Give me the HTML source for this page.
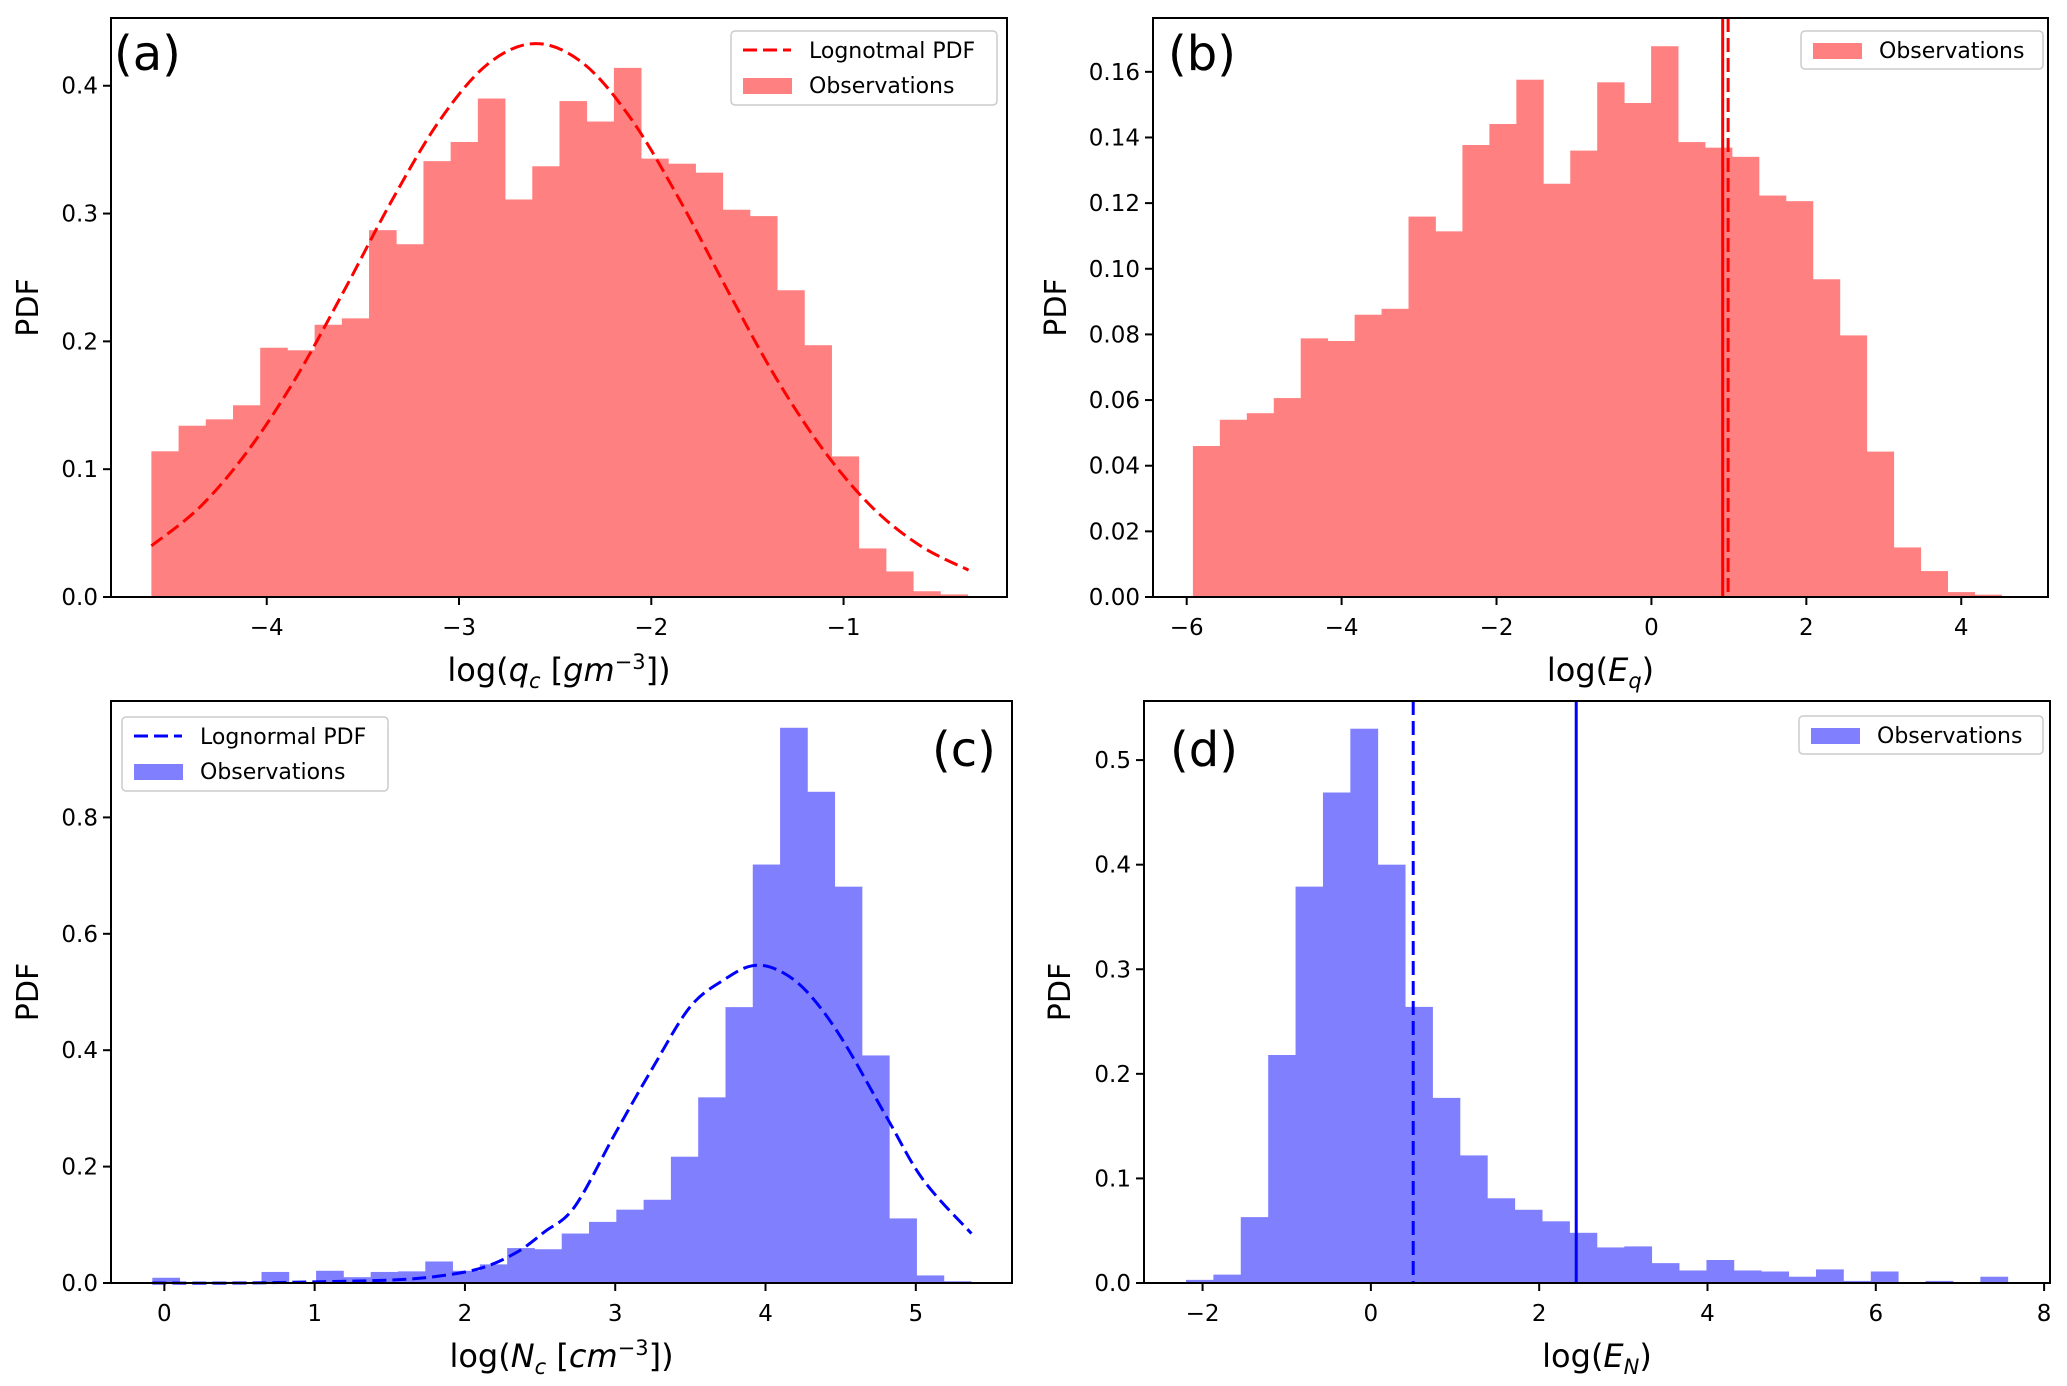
<!DOCTYPE html>
<html><head><meta charset="utf-8"><style>
html,body{margin:0;padding:0;background:#fff}
svg{display:block}
text{font-family:"DejaVu Sans","Liberation Sans",sans-serif;fill:#000}
</style></head><body>
<svg id="fig" width="2067" height="1386" viewBox="0 0 2067 1386" xmlns="http://www.w3.org/2000/svg"></svg>
<script>
// ---- data ----
const aBinStart = -4.6, aBinWidth = 0.1415;
const aHeights = [0.114,0.134,0.139,0.150,0.195,0.193,0.213,0.218,0.287,0.276,0.341,0.356,0.390,0.311,0.337,0.388,0.372,0.414,0.343,0.339,0.332,0.303,0.298,0.240,0.197,0.110,0.038,0.020,0.0045,0.002];
const aCurveX = [-4.6,-4.35,-4.1,-3.85,-3.6,-3.35,-3.1,-2.85,-2.6,-2.35,-2.1,-1.85,-1.6,-1.35,-1.1,-0.85,-0.6,-0.35];
const aCurveY = [0.040,0.070,0.114,0.171,0.239,0.310,0.373,0.417,0.433,0.417,0.373,0.310,0.239,0.171,0.114,0.070,0.040,0.021];
const aXTicks = [-4,-3,-2,-1];
const aYTicks = [0,0.1,0.2,0.3,0.4];
const aYLabels = ["0.0","0.1","0.2","0.3","0.4"];

const bBinStart = -5.92, bBinWidth = 0.348;
const bHeights = [0.046,0.054,0.056,0.0606,0.0788,0.078,0.086,0.0878,0.1159,0.1114,0.1377,0.1441,0.1576,0.1259,0.136,0.1568,0.1505,0.1678,0.1386,0.1369,0.1341,0.1223,0.1206,0.0968,0.0797,0.0443,0.0151,0.0079,0.0015,0.0007];
const bSolidLine = 0.92, bDashedLine = 0.99;
const bXTicks = [-6,-4,-2,0,2,4];
const bYTicks = [0,0.02,0.04,0.06,0.08,0.10,0.12,0.14,0.16];
const bYLabels = ["0.00","0.02","0.04","0.06","0.08","0.10","0.12","0.14","0.16"];

const cBinStart = -0.08, cBinWidth = 0.1816;
const cHeights = [0.009,0.001,0.002,0.001,0.019,0.001,0.021,0.010,0.019,0.020,0.037,0.021,0.032,0.060,0.058,0.085,0.105,0.126,0.143,0.217,0.319,0.474,0.719,0.954,0.844,0.681,0.391,0.111,0.013,0.003];
const cCurveX = [-0.08,0.5,1.0,1.5,1.8,2.1,2.34,2.53,2.73,3.0,3.25,3.5,3.73,3.91,4.08,4.27,4.5,4.81,5.05,5.37];
const cCurveY = [0.0,0.0,0.002,0.005,0.011,0.025,0.052,0.088,0.131,0.257,0.37,0.475,0.522,0.545,0.538,0.502,0.423,0.283,0.177,0.085];
const cXTicks = [0,1,2,3,4,5];
const cYTicks = [0,0.2,0.4,0.6,0.8];
const cYLabels = ["0.0","0.2","0.4","0.6","0.8"];

const dBinStart = -2.197, dBinWidth = 0.3255;
const dHeights = [0.003,0.008,0.063,0.218,0.379,0.469,0.530,0.400,0.264,0.177,0.122,0.081,0.070,0.059,0.048,0.034,0.035,0.019,0.012,0.022,0.012,0.011,0.006,0.013,0.002,0.011,0.0005,0.002,0.0005,0.006];
const dSolidLine = 2.44, dDashedLine = 0.503;
const dXTicks = [-2,0,2,4,6,8];
const dYTicks = [0,0.1,0.2,0.3,0.4,0.5];
const dYLabels = ["0.0","0.1","0.2","0.3","0.4","0.5"];

// ---- drawing ----
const NS = "http://www.w3.org/2000/svg";
const svg = document.getElementById('fig');
function el(tag, attrs, parent){
  const e = document.createElementNS(NS, tag);
  for (const k in attrs) e.setAttribute(k, attrs[k]);
  (parent||svg).appendChild(e);
  return e;
}
function fmt(v){ return (v<0?"\u2212":"")+Math.abs(v); }
function smoothPath(pts){
  let d = 'M' + pts[0][0] + ',' + pts[0][1];
  for (let i=0;i<pts.length-1;i++){
    const p0 = pts[Math.max(0,i-1)], p1 = pts[i], p2 = pts[i+1], p3 = pts[Math.min(pts.length-1,i+2)];
    const c1x = p1[0] + (p2[0]-p0[0])/6, c1y = p1[1] + (p2[1]-p0[1])/6;
    const c2x = p2[0] - (p3[0]-p1[0])/6, c2y = p2[1] - (p3[1]-p1[1])/6;
    d += ' C' + c1x + ',' + c1y + ' ' + c2x + ',' + c2y + ' ' + p2[0] + ',' + p2[1];
  }
  return d;
}
const DASH = '14,6';

function panel(p){
  const g = el('g', {});
  
  
  const sx = v => p.L + (v - p.xmin)/(p.xmax - p.xmin)*(p.R - p.L);
  const sy = v => p.B - (v - p.ymin)/(p.ymax - p.ymin)*(p.B - p.T);
  const bars = el('g', {}, g);
  
  
  p.heights.forEach((h,i)=>{
    const x0 = sx(p.binStart + i*p.binWidth), x1 = sx(p.binStart + (i+1)*p.binWidth);
    const r = el('rect', {x:x0, y:sy(h), width:x1-x0+0.4, height:sy(0)-sy(h), fill:p.fill}, bars);
    
    
  });
  if (p.cx){
    const pts = p.cx.map((x,i)=>[sx(x), sy(p.cy[i])]);
    const pl = el('path', {d:smoothPath(pts), fill:'none', stroke:p.line, 'stroke-width':3, 'stroke-dasharray':DASH}, g);
    
    
  }
  if (p.vsolid !== undefined){
    const l = el('line', {x1:sx(p.vsolid), x2:sx(p.vsolid), y1:p.T, y2:p.B, stroke:p.line, 'stroke-width':3}, g);
    
    
    const d = el('line', {x1:sx(p.vdash), x2:sx(p.vdash), y1:p.T, y2:p.B, stroke:p.line, 'stroke-width':3, 'stroke-dasharray':DASH}, g);
    
    
  }
  const fr = el('rect', {x:p.L, y:p.T, width:p.R-p.L, height:p.B-p.T, fill:'none', stroke:'#000', 'stroke-width':2}, g);
  
  
  p.xt.forEach(v=>{
    const x = sx(v);
    el('line', {x1:x, x2:x, y1:p.B, y2:p.B+8, stroke:'#000', 'stroke-width':2}, g);
    const t = el('text', {x:x, y:p.B+38, 'font-size':23, 'text-anchor':'middle'}, g);
    t.textContent = fmt(v);
    
    
  });
  p.yt.forEach((v,i)=>{
    const y = sy(v);
    el('line', {x1:p.L-8, x2:p.L, y1:y, y2:y, stroke:'#000', 'stroke-width':2}, g);
    const t = el('text', {x:p.L-13, y:y+8, 'font-size':23, 'text-anchor':'end'}, g);
    t.textContent = p.yl[i];
    
    
  });
  const yt = el('text', {x:0, y:0, 'font-size':30, 'text-anchor':'middle', transform:`translate(${p.ytx},${(p.T+p.B)/2}) rotate(-90)`}, g);
  yt.textContent = 'PDF';
  
  
  const xt = el('text', {x:(p.L+p.R)/2, y:p.B+84, 'font-size':32, 'text-anchor':'middle'}, g);
  xt.innerHTML = p.xtitle;
  
  
  const pl = el('text', {x:p.labX, y:p.labY, 'font-size':48}, g);
  pl.textContent = p.label;
  
  
  const lg = el('g', {}, g);
  
  
  const Lx = p.leg[0], Ly = p.leg[1], Lw = p.leg[2], Lh = p.curveLegend ? 74 : 38;
  el('rect', {x:Lx, y:Ly, width:Lw, height:Lh, rx:4, fill:'#fff', 'fill-opacity':0.8, stroke:'#ccc', 'stroke-width':1.5}, lg);
  let yy = Ly + 19;
  if (p.curveLegend){
    const e1 = el('g', {}, lg);
    
    
    el('line', {x1:Lx+12, x2:Lx+60, y1:yy, y2:yy, stroke:p.line, 'stroke-width':3, 'stroke-dasharray':DASH}, e1);
    const t = el('text', {x:Lx+78, y:yy+8, 'font-size':22}, e1);
    t.textContent = p.curveLegend;
    yy += 35;
  }
  const e2 = el('g', {}, lg);
  
  
  el('rect', {x:Lx+12, y:yy-7, width:49, height:16, fill:p.fill}, e2);
  const t2 = el('text', {x:Lx+78, y:yy+8, 'font-size':22}, e2);
  t2.textContent = 'Observations';
}

panel({name:'panel-a', L:111, R:1007, T:18, B:597, xmin:-4.81, xmax:-0.15, ymin:0, ymax:0.453,
  binStart:aBinStart, binWidth:aBinWidth, heights:aHeights, cx:aCurveX, cy:aCurveY,
  fill:'#ff8080', line:'#ff0000', xt:aXTicks, yt:aYTicks, yl:aYLabels, ytx:38,
  xtitle:'log(<tspan font-style="italic">q</tspan><tspan font-style="italic" font-size="21" dy="7">c</tspan><tspan dy="-7"> [</tspan><tspan font-style="italic">gm</tspan><tspan font-size="21" dy="-12">−3</tspan><tspan dy="12">])</tspan>',
  label:'(a)', labX:114, labY:70, leg:[731,31,266], curveLegend:'Lognotmal PDF'});

panel({name:'panel-b', L:1153, R:2048, T:18, B:597, xmin:-6.435, xmax:5.12, ymin:0, ymax:0.1764,
  binStart:bBinStart, binWidth:bBinWidth, heights:bHeights, vsolid:bSolidLine, vdash:bDashedLine,
  fill:'#ff8080', line:'#ff0000', xt:bXTicks, yt:bYTicks, yl:bYLabels, ytx:1066,
  xtitle:'log(<tspan font-style="italic">E</tspan><tspan font-style="italic" font-size="21" dy="7">q</tspan><tspan dy="-7">)</tspan>',
  label:'(b)', labX:1168, labY:70, leg:[1801,31,242]});

panel({name:'panel-c', L:111, R:1012, T:701, B:1283, xmin:-0.355, xmax:5.64, ymin:0, ymax:1.0,
  binStart:cBinStart, binWidth:cBinWidth, heights:cHeights, cx:cCurveX, cy:cCurveY,
  fill:'#8080ff', line:'#0000ff', xt:cXTicks, yt:cYTicks, yl:cYLabels, ytx:38,
  xtitle:'log(<tspan font-style="italic">N</tspan><tspan font-style="italic" font-size="21" dy="7">c</tspan><tspan dy="-7"> [</tspan><tspan font-style="italic">cm</tspan><tspan font-size="21" dy="-12">−3</tspan><tspan dy="12">])</tspan>',
  label:'(c)', labX:932, labY:766, leg:[122,717,266], curveLegend:'Lognormal PDF'});

panel({name:'panel-d', L:1144, R:2050, T:701, B:1283, xmin:-2.696, xmax:8.07, ymin:0, ymax:0.5565,
  binStart:dBinStart, binWidth:dBinWidth, heights:dHeights, vsolid:dSolidLine, vdash:dDashedLine,
  fill:'#8080ff', line:'#0000ff', xt:dXTicks, yt:dYTicks, yl:dYLabels, ytx:1070,
  xtitle:'log(<tspan font-style="italic">E</tspan><tspan font-style="italic" font-size="21" dy="7">N</tspan><tspan dy="-7">)</tspan>',
  label:'(d)', labX:1170, labY:766, leg:[1799,716,244]});
</script>
</body></html>
